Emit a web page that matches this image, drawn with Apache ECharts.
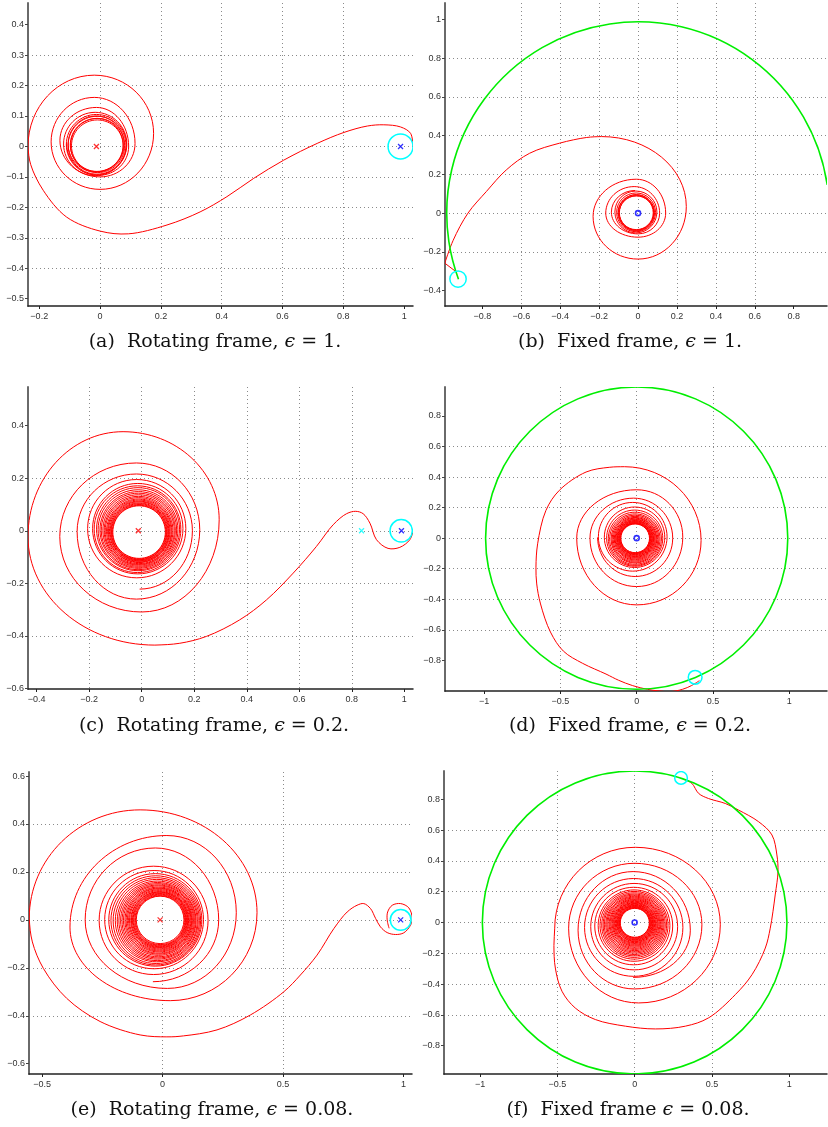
<!DOCTYPE html>
<html><head><meta charset="utf-8">
<script src="https://cdn.jsdelivr.net/npm/echarts@6/dist/echarts.min.js"></script>
<style>html,body{margin:0;padding:0;background:#fff}#c{width:828px;height:1127px}</style>
</head><body><div id="c"></div><script>
// ---------- tick labels ----------
const xTicksA = [-0.2, 0, 0.2, 0.4, 0.6, 0.8, 1];
const yTicksA = [-0.5, -0.4, -0.3, -0.2, -0.1, 0, 0.1, 0.2, 0.3, 0.4];
const xTicksB = [-0.8, -0.6, -0.4, -0.2, 0, 0.2, 0.4, 0.6, 0.8];
const yTicksB = [-0.4, -0.2, 0, 0.2, 0.4, 0.6, 0.8, 1];
const xTicksC = [-0.4, -0.2, 0, 0.2, 0.4, 0.6, 0.8, 1];
const yTicksC = [-0.6, -0.4, -0.2, 0, 0.2, 0.4];
const xTicksD = [-1, -0.5, 0, 0.5, 1];
const yTicksD = [-0.8, -0.6, -0.4, -0.2, 0, 0.2, 0.4, 0.6, 0.8];
const xTicksE = [-0.5, 0, 0.5, 1];
const yTicksE = [-0.6, -0.4, -0.2, 0, 0.2, 0.4, 0.6];
const xTicksF = [-1, -0.5, 0, 0.5, 1];
const yTicksF = [-0.8, -0.6, -0.4, -0.2, 0, 0.2, 0.4, 0.6, 0.8];

const captions = [
  '(a)  Rotating frame, {e|ϵ} = 1.',
  '(b)  Fixed frame, {e|ϵ} = 1.',
  '(c)  Rotating frame, {e|ϵ} = 0.2.',
  '(d)  Fixed frame, {e|ϵ} = 0.2.',
  '(e)  Rotating frame, {e|ϵ} = 0.08.',
  '(f)  Fixed frame {e|ϵ} = 0.08.'
];

// Trajectories: "tail" = free points read along the path; "spiral" = successive extreme points
// of the loops (alternating left/right extremes and top/bottom extremes).

// ---------- panel (a): rotating frame, eps = 1 ----------
const tailA = [[1.029,-0.001],[1.021,0.043],[0.988,0.064],[0.933,0.071],[0.879,0.067],[0.802,0.046],[0.714,0.010],[0.604,-0.045],[0.505,-0.105],[0.417,-0.165],[0.329,-0.215],[0.220,-0.258],[0.093,-0.287],[0.000,-0.278],[-0.110,-0.232],[-0.187,-0.144],[-0.228,-0.060],[-0.237,0.000]];
const spiralA = [[-0.237,0.000],[-0.019,0.234],[0.176,0.043],[0.000,-0.141],[-0.161,0.015],[-0.019,0.161],[0.115,0.010],[0.000,-0.100],[-0.132,0.020],[-0.012,0.128],[0.094,0.000],[-0.005,-0.095],[-0.110,0.010]];
const loopsA = [[-0.016,0.008,0.104],[-0.012,0.006,0.099],[-0.010,0.004,0.095],[-0.013,0.008,0.092],[-0.008,0.003,0.089],[-0.011,0.005,0.087],[-0.009,0.002,0.085]];
const satA = [[0.988, 0, 0.041]];
const primaryA = [[-0.012, 0]];
const secondaryA = [[0.988, 0]];

// ---------- panel (b): fixed frame, eps = 1 ----------
const orbitB = [[0, 0, 0.985, 8.5, 200.2]];
const kinkB = [[-0.938,-0.300],[-0.993,-0.258]];
const tailB = [[-0.993,-0.258],[-0.950,-0.140],[-0.874,0.000],[-0.779,0.112],[-0.677,0.223],[-0.557,0.309],[-0.403,0.361],[-0.266,0.390],[-0.188,0.395]];
const spiralB = [[-0.188,0.395],[0.248,0.034],[0.000,-0.237],[-0.231,-0.017],[-0.009,0.175],[0.142,0.000],[0.000,-0.124],[-0.166,0.000],[-0.020,0.137],[0.111,0.000],[0.000,-0.107],[-0.137,0.005],[-0.015,0.117]];
const loopsB = [[-0.011,0.006,0.108],[-0.010,0.004,0.100],[-0.009,0.002,0.094],[-0.010,0.003,0.091],[-0.008,0.001,0.089],[-0.009,0.002,0.087]];
const satB = [[-0.925, -0.340, 0.042]];
const centreB = [[0, 0]];

// ---------- panel (c): rotating frame, eps = 0.2 ----------
const tailC = [[1.034,0.000],[1.021,-0.034],[0.983,-0.063],[0.938,-0.067],[0.894,-0.034],[0.869,0.029],[0.843,0.065],[0.815,0.074],[0.780,0.065],[0.729,0.023],[0.665,-0.060],[0.577,-0.161],[0.475,-0.263],[0.373,-0.339],[0.246,-0.402],[0.145,-0.428],[0.050,-0.435]];
const spiralC = [[0.050,-0.435],[-0.433,-0.022],[-0.071,0.377],[0.295,0.042],[0.000,-0.309],[-0.312,-0.022],[-0.020,0.258],[0.221,0.004],[-0.020,-0.260],[-0.246,-0.003],[-0.020,0.216],[0.193,0.000],[-0.008,-0.222]];
const loopsC = [[-0.019,0.008,0.187],[-0.015,0.008,0.172],[-0.016,0.006,0.165],[-0.014,0.006,0.158],[-0.014,0.004,0.152],[-0.013,0.003,0.146],[-0.013,0.002,0.141],[-0.012,0.001,0.136],[-0.012,0.000,0.131],[-0.012,-0.001,0.127],[-0.011,-0.002,0.123],[-0.011,-0.002,0.119],[-0.011,-0.003,0.116],[-0.010,-0.003,0.113],[-0.010,-0.004,0.110],[-0.010,-0.004,0.107],[-0.010,-0.005,0.105],[-0.010,-0.005,0.102],[-0.010,-0.005,0.100]];
const satC = [[0.988, 0, 0.0425]];
const primaryC = [[-0.013, 0]];
const lagrangeC = [[0.837, 0]];
const secondaryC = [[0.989, 0]];

// ---------- panel (d): fixed frame, eps = 0.2 ----------
const orbitD = [[0, 0, 0.99]];
const tailD = [[0.411,-0.933],[0.360,-0.965],[0.300,-0.990],[0.220,-1.005],[0.140,-1.000],[0.070,-0.990],[-0.026,-0.966],[-0.120,-0.930],[-0.201,-0.890],[-0.354,-0.820],[-0.480,-0.740],[-0.565,-0.615],[-0.630,-0.431],[-0.655,-0.300],[-0.660,-0.190],[-0.649,-0.037],[-0.595,0.181],[-0.507,0.313],[-0.332,0.433],[-0.180,0.464],[-0.080,0.468]];
const spiralD = [[-0.080,0.468],[0.422,-0.015],[0.000,-0.437],[-0.393,0.000],[0.000,0.317],[0.302,0.007],[0.000,-0.317],[-0.306,0.000],[-0.020,0.262],[0.236,0.000],[-0.010,-0.251],[-0.256,0.005]];
const loopsD = [[-0.026,0.009,0.225],[-0.014,0.006,0.198],[-0.013,0.000,0.184],[-0.012,-0.004,0.174],[-0.012,-0.006,0.165],[-0.011,-0.006,0.157],[-0.011,-0.007,0.150],[-0.011,-0.007,0.143],[-0.010,-0.006,0.137],[-0.010,-0.006,0.131],[-0.010,-0.005,0.126],[-0.010,-0.005,0.121],[-0.010,-0.004,0.117],[-0.010,-0.004,0.113],[-0.010,-0.003,0.109],[-0.010,-0.003,0.105],[-0.010,-0.002,0.102],[-0.010,-0.002,0.099],[-0.010,-0.001,0.096],[-0.010,-0.001,0.094]];
const satD = [[0.383, -0.911, 0.045]];
const centreD = [[0, 0]];

// ---------- panel (e): rotating frame, eps = 0.08 ----------
const tailE = [[0.940,-0.035],[0.932,0.000],[0.934,0.033],[0.953,0.061],[0.988,0.068],[1.022,0.050],[1.036,0.006],[1.029,-0.022],[1.001,-0.054],[0.967,-0.061],[0.932,-0.053],[0.904,-0.029],[0.884,0.006],[0.863,0.047],[0.835,0.068],[0.807,0.061],[0.766,0.033],[0.711,-0.036],[0.641,-0.147],[0.572,-0.230],[0.503,-0.300],[0.364,-0.397],[0.226,-0.459],[0.087,-0.484],[0.018,-0.488],[-0.093,-0.480],[-0.259,-0.424],[-0.398,-0.327],[-0.494,-0.203],[-0.540,-0.092],[-0.553,0.006]];
const spiralE = [[-0.553,0.006],[-0.093,0.459],[0.392,0.030],[0.032,-0.337],[-0.384,-0.030],[0.018,0.352],[0.306,0.030],[0.020,-0.286],[-0.321,0.000],[-0.030,0.300],[0.233,0.000],[-0.040,-0.258]];
const loopsE = [[-0.037,-0.002,0.226],[-0.035,0.001,0.205],[-0.030,0.000,0.193],[-0.028,-0.002,0.186],[-0.026,-0.003,0.179],[-0.024,-0.003,0.172],[-0.022,-0.004,0.166],[-0.021,-0.004,0.160],[-0.019,-0.004,0.155],[-0.018,-0.004,0.150],[-0.017,-0.003,0.145],[-0.016,-0.003,0.140],[-0.015,-0.003,0.136],[-0.014,-0.002,0.132],[-0.013,-0.002,0.128],[-0.013,-0.002,0.124],[-0.012,-0.002,0.120],[-0.012,-0.001,0.117],[-0.011,-0.001,0.114],[-0.011,-0.001,0.111],[-0.011,-0.001,0.108],[-0.010,-0.001,0.105],[-0.010,-0.001,0.102],[-0.010,0.000,0.099]];
const satE = [[0.988, 0, 0.043]];
const primaryE = [[-0.010, 0]];
const secondaryE = [[0.988, 0]];

// ---------- panel (f): fixed frame, eps = 0.08 ----------
const orbitF = [[0, 0, 0.985]];
const tailF = [[0.335,0.925],[0.371,0.904],[0.414,0.839],[0.478,0.806],[0.586,0.774],[0.672,0.731],[0.802,0.655],[0.888,0.569],[0.920,0.439],[0.927,0.331],[0.909,0.179],[0.877,-0.037],[0.845,-0.166],[0.759,-0.339],[0.651,-0.469],[0.478,-0.620],[0.328,-0.674],[0.134,-0.692],[-0.060,-0.674],[-0.254,-0.631],[-0.384,-0.556],[-0.470,-0.447],[-0.513,-0.296],[-0.522,-0.150],[-0.517,-0.037]];
const spiralF = [[-0.517,-0.037],[0.004,0.489],[0.554,-0.015],[0.026,-0.523],[-0.427,-0.037],[0.000,0.385],[0.435,-0.015],[0.000,-0.432],[-0.366,-0.050],[-0.010,0.331],[0.360,-0.050],[-0.010,-0.357]];
const loopsF = [[-0.006,-0.032,0.318],[-0.003,-0.027,0.281],[-0.006,-0.023,0.252],[-0.004,-0.020,0.232],[-0.004,-0.018,0.220],[-0.003,-0.017,0.210],[-0.003,-0.016,0.201],[-0.003,-0.015,0.193],[-0.002,-0.014,0.185],[-0.002,-0.013,0.178],[-0.002,-0.012,0.171],[-0.001,-0.011,0.164],[-0.001,-0.010,0.158],[-0.001,-0.009,0.152],[0.000,-0.008,0.146],[0.000,-0.008,0.140],[0.000,-0.007,0.135],[0.000,-0.006,0.130],[0.000,-0.006,0.125],[0.001,-0.005,0.120],[0.001,-0.005,0.116],[0.001,-0.004,0.112],[0.001,-0.004,0.108],[0.001,-0.003,0.104],[0.001,-0.003,0.100],[0.001,-0.002,0.097],[0.001,-0.002,0.094]];
const satF = [[0.300, 0.940, 0.041]];
const centreF = [[0, 0]];

// ---------- layout ----------
const panels = [
  {grid:{left:28, top:3, width:385, height:303}, x:[-0.237,1.029], y:[-0.524,0.471], xt:xTicksA, yt:yTicksA, cap:[215,342]},
  {grid:{left:445, top:3, width:382, height:303}, x:[-0.992,0.971], y:[-0.479,1.084], xt:xTicksB, yt:yTicksB, cap:[630,342]},
  {grid:{left:28, top:387, width:385, height:302}, x:[-0.433,1.033], y:[-0.602,0.547], xt:xTicksC, yt:yTicksC, cap:[214,726]},
  {grid:{left:445, top:387, width:382, height:304}, x:[-1.256,1.247], y:[-1.001,0.99], xt:xTicksD, yt:yTicksD, cap:[630,726]},
  {grid:{left:29, top:772, width:383, height:302}, x:[-0.554,1.035], y:[-0.643,0.617], xt:xTicksE, yt:yTicksE, cap:[212,1110]},
  {grid:{left:444, top:771, width:383, height:303}, x:[-1.233,1.244], y:[-0.985,0.985], xt:xTicksF, yt:yTicksF, cap:[628,1110]}
];

const RED = '#ff0000', GREEN = '#00ee00', CYAN = '#00ffff', BLUE = '#0000ff';
const fmt = v => String(Math.round(v * 100) / 100).replace('-', '\u2212');
const labelStyle = {fontSize: 9, color: '#333', fontFamily: 'Liberation Sans, Arial, sans-serif'};
const gridLine = {show: true, showMinLine: false, showMaxLine: false, lineStyle: {color: '#8a8a8a', width: 1, type: [1, 3]}};

const xAxes = panels.map((p, i) => ({
  gridIndex: i, type: 'value', min: p.x[0], max: p.x[1],
  axisLine: {show: true, onZero: false, lineStyle: {color: '#222', width: 1.5}},
  axisTick: {show: true, length: 3, customValues: p.xt, lineStyle: {color: '#222'}},
  axisLabel: Object.assign({customValues: p.xt, formatter: fmt, margin: 6, hideOverlap: false}, labelStyle),
  splitLine: gridLine
}));
const yAxes = panels.map((p, i) => ({
  gridIndex: i, type: 'value', min: p.y[0], max: p.y[1],
  axisLine: {show: true, onZero: false, lineStyle: {color: '#6a6a6a', width: 2}},
  axisTick: {show: true, length: 3, customValues: p.yt, lineStyle: {color: '#444'}},
  axisLabel: Object.assign({customValues: p.yt, formatter: fmt, margin: 4, hideOverlap: false}, labelStyle),
  splitLine: gridLine
}));

const strokeStyle = (color, w) => ({fill: 'none', stroke: color, lineWidth: w});

// centripetal Catmull-Rom control points (pixel space)
function crControls(p0, p1, p2, p3) {
  const d1 = Math.sqrt(Math.hypot(p1[0] - p0[0], p1[1] - p0[1]));
  const d2 = Math.sqrt(Math.hypot(p2[0] - p1[0], p2[1] - p1[1]));
  const d3 = Math.sqrt(Math.hypot(p3[0] - p2[0], p3[1] - p2[1]));
  let c1 = p1, c2 = p2;
  if (d1 > 1e-6 && d2 > 1e-6) {
    const a = 2 * d1 * d1 + 3 * d1 * d2 + d2 * d2, n = 3 * d1 * (d1 + d2);
    c1 = [(d1 * d1 * p2[0] - d2 * d2 * p0[0] + a * p1[0]) / n, (d1 * d1 * p2[1] - d2 * d2 * p0[1] + a * p1[1]) / n];
  }
  if (d3 > 1e-6 && d2 > 1e-6) {
    const b = 2 * d3 * d3 + 3 * d3 * d2 + d2 * d2, m = 3 * d3 * (d3 + d2);
    c2 = [(d3 * d3 * p1[0] - d2 * d2 * p3[0] + b * p2[0]) / m, (d3 * d3 * p1[1] - d2 * d2 * p3[1] + b * p2[1]) / m];
  }
  return [c1, c2];
}
// free trajectory: points placed by the axes; endType 'side' / 'top' gives the end tangent of a loop extreme
function curveS(i, pts, endType, color, w, z) {
  return {type: 'custom', xAxisIndex: i, yAxisIndex: i, data: pts, silent: true, clip: true, z: z,
    renderItem: function (params, api) {
      if (params.dataIndex !== 0) return null;
      const P = pts.map(p => api.coord(p));
      const n = P.length, last = P[n - 1], prev = P[n - 2];
      let ghost;
      if (endType === 'side') ghost = [last[0], 2 * last[1] - prev[1]];
      else if (endType === 'top') ghost = [2 * last[0] - prev[0], last[1]];
      else ghost = last;
      const kids = [];
      for (let k = 0; k < n - 1; k++) {
        const p0 = k > 0 ? P[k - 1] : P[k], p1 = P[k], p2 = P[k + 1], p3 = k + 2 < n ? P[k + 2] : ghost;
        const c = crControls(p0, p1, p2, p3);
        kids.push({type: 'bezierCurve', shape: {x1: p1[0], y1: p1[1], x2: p2[0], y2: p2[1],
          cpx1: c[0][0], cpy1: c[0][1], cpx2: c[1][0], cpy2: c[1][1]}, style: strokeStyle(color, w)});
      }
      return {type: 'group', children: kids};
    }};
}
// spiral loops: consecutive extreme points joined by quarter-ellipse Bezier arcs
function spiralS(i, pts, firstIsSide, color, w, z) {
  const K = 0.5523;
  return {type: 'custom', xAxisIndex: i, yAxisIndex: i, data: pts, silent: true, clip: true, z: z,
    renderItem: function (params, api) {
      if (params.dataIndex !== 0) return null;
      const P = pts.map(p => api.coord(p));
      const kids = [];
      let side = firstIsSide;
      for (let k = 0; k < P.length - 1; k++) {
        const p = P[k], q = P[k + 1];
        let c1, c2;
        if (side) { c1 = [p[0], p[1] + K * (q[1] - p[1])]; c2 = [q[0] + K * (p[0] - q[0]), q[1]]; }
        else { c1 = [p[0] + K * (q[0] - p[0]), p[1]]; c2 = [q[0], q[1] + K * (p[1] - q[1])]; }
        kids.push({type: 'bezierCurve', shape: {x1: p[0], y1: p[1], x2: q[0], y2: q[1],
          cpx1: c1[0], cpy1: c1[1], cpx2: c2[0], cpy2: c2[1]}, style: strokeStyle(color, w)});
        side = !side;
      }
      return {type: 'group', children: kids};
    }};
}
function lineS(i, data, color, w) {
  return {type: 'line', xAxisIndex: i, yAxisIndex: i, data: data, showSymbol: false, symbol: 'none',
    lineStyle: {color: color, width: w}, silent: true, z: 3, clip: true};
}
function ringS(i, data, color, w, z) {
  return {type: 'custom', xAxisIndex: i, yAxisIndex: i, data: data, silent: true, clip: true, z: z,
    renderItem: function (params, api) {
      const c = api.coord([api.value(0), api.value(1)]);
      const s = api.size([api.value(2), api.value(2)]);
      return {type: 'ellipse', shape: {cx: c[0], cy: c[1], rx: s[0], ry: s[1]}, style: strokeStyle(color, w)};
    }};
}
function arcS(i, data, color, w, z) {
  return {type: 'custom', xAxisIndex: i, yAxisIndex: i, data: data, silent: true, clip: true, z: z,
    renderItem: function (params, api) {
      const c = api.coord([api.value(0), api.value(1)]);
      const s = api.size([api.value(2), api.value(2)]);
      return {type: 'arc', shape: {cx: c[0], cy: c[1], r: (s[0] + s[1]) / 2,
        startAngle: -api.value(3) * Math.PI / 180, endAngle: -api.value(4) * Math.PI / 180, clockwise: false},
        style: strokeStyle(color, w)};
    }};
}
const crossSym = 'path://M0,0L10,10M10,0L0,10';
function crossS(i, data, color) {
  return {type: 'scatter', xAxisIndex: i, yAxisIndex: i, data: data, symbol: crossSym, symbolSize: 5,
    itemStyle: {color: 'none', borderColor: color, borderWidth: 1.3}, silent: true, z: 6};
}
function dotS(i, data, color) {
  return {type: 'scatter', xAxisIndex: i, yAxisIndex: i, data: data, symbol: 'circle', symbolSize: 5,
    itemStyle: {color: 'none', borderColor: color, borderWidth: 1.6}, silent: true, z: 6};
}

const series = [
  // (a)
  curveS(0, tailA, 'side', RED, 1, 3), spiralS(0, spiralA, true, RED, 1, 3), ringS(0, loopsA, RED, 1, 3),
  ringS(0, satA, CYAN, 1.5, 5), crossS(0, primaryA, RED), crossS(0, secondaryA, BLUE),
  // (b)
  lineS(1, kinkB, RED, 1), curveS(1, tailB, 'top', RED, 1, 3), spiralS(1, spiralB, false, RED, 1, 3),
  ringS(1, loopsB, RED, 1, 3), arcS(1, orbitB, GREEN, 1.6, 4), ringS(1, satB, CYAN, 1.5, 5), dotS(1, centreB, BLUE),
  // (c)
  curveS(2, tailC, 'top', RED, 1, 3), spiralS(2, spiralC, false, RED, 1, 3), ringS(2, loopsC, RED, 1, 3),
  ringS(2, satC, CYAN, 1.5, 5), crossS(2, primaryC, RED), crossS(2, lagrangeC, CYAN), crossS(2, secondaryC, BLUE),
  // (d)
  curveS(3, tailD, 'top', RED, 1, 3), spiralS(3, spiralD, false, RED, 1, 3), ringS(3, loopsD, RED, 1, 3),
  ringS(3, orbitD, GREEN, 1.6, 4), ringS(3, satD, CYAN, 1.5, 5), dotS(3, centreD, BLUE),
  // (e)
  curveS(4, tailE, 'side', RED, 1, 3), spiralS(4, spiralE, true, RED, 1, 3), ringS(4, loopsE, RED, 1, 3),
  ringS(4, satE, CYAN, 1.5, 5), crossS(4, primaryE, RED), crossS(4, secondaryE, BLUE),
  // (f)
  curveS(5, tailF, 'side', RED, 1, 3), spiralS(5, spiralF, true, RED, 1, 3), ringS(5, loopsF, RED, 1, 3),
  ringS(5, orbitF, GREEN, 1.6, 4), ringS(5, satF, CYAN, 1.5, 5), dotS(5, centreF, BLUE)
];

const graphics = panels.map((p, i) => ({
  type: 'text', x: p.cap[0], y: p.cap[1], silent: true,
  style: {text: captions[i], align: 'center', verticalAlign: 'middle', fill: '#111',
    font: '19px "DejaVu Serif", serif',
    rich: {e: {fontStyle: 'italic', fontSize: 19, fontFamily: 'DejaVu Serif', fill: '#111'}}}
}));

const chart = echarts.init(document.getElementById('c'), null, {renderer: 'canvas'});
chart.setOption({
  animation: false,
  backgroundColor: '#fff',
  grid: panels.map(p => Object.assign({containLabel: false}, p.grid)),
  xAxis: xAxes,
  yAxis: yAxes,
  series: series,
  graphic: graphics
});
</script></body></html>
